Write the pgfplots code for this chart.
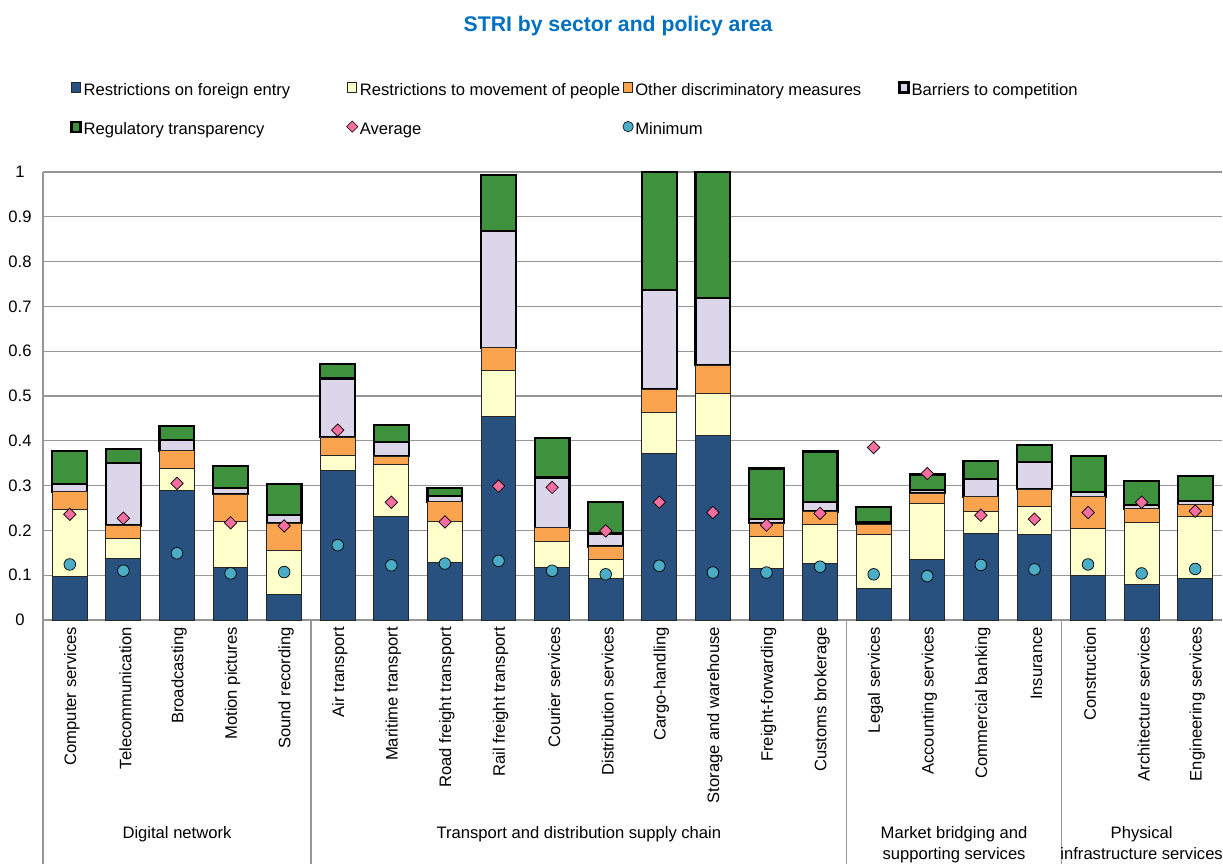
\documentclass[border=0pt]{standalone}
\usepackage{fontspec}
\setmainfont{Liberation Sans}
\usepackage{pgfplots}
\pgfplotsset{compat=1.18}
\usepackage{pgfplotstable}
\usetikzlibrary{calc}

\definecolor{cblue}{RGB}{41,81,128}
\definecolor{cyellow}{RGB}{255,255,204}
\definecolor{corange}{RGB}{251,164,80}
\definecolor{clav}{RGB}{220,214,234}
\definecolor{cgreen}{RGB}{62,146,62}
\definecolor{cpink}{RGB}{244,110,160}
\definecolor{cteal}{RGB}{75,172,198}
\definecolor{ctitle}{RGB}{0,112,192}
\definecolor{gridgray}{RGB}{150,150,150}

\pgfplotsset{
  mybarleg/.style={legend image code/.code={\draw[##1] (0pt,-0.5pt) rectangle (4.5pt,4.5pt);}},
  mymarkleg/.style={legend image code/.code={\draw[##1] plot coordinates {(2.25pt,2pt)};}},
}

\pgfplotstableread{
x a b c d e avg min
0 0.098 0.148 0.040 0.017 0.074 0.236 0.124
1 0.138 0.044 0.029 0.140 0.031 0.227 0.110
2 0.290 0.049 0.039 0.024 0.031 0.305 0.149
3 0.117 0.104 0.060 0.013 0.050 0.217 0.104
4 0.056 0.100 0.060 0.018 0.070 0.210 0.107
5 0.333 0.035 0.040 0.131 0.032 0.424 0.167
6 0.231 0.117 0.018 0.032 0.037 0.263 0.122
7 0.128 0.091 0.045 0.013 0.017 0.219 0.126
8 0.455 0.102 0.051 0.261 0.124 0.299 0.132
9 0.118 0.058 0.030 0.112 0.088 0.296 0.110
10 0.093 0.041 0.030 0.029 0.071 0.199 0.102
11 0.372 0.092 0.051 0.222 0.263 0.263 0.121
12 0.411 0.095 0.063 0.150 0.281 0.240 0.106
13 0.114 0.072 0.030 0.009 0.113 0.212 0.106
14 0.126 0.088 0.028 0.022 0.112 0.238 0.119
15 0.071 0.120 0.023 0.005 0.034 0.385 0.102
16 0.134 0.126 0.023 0.007 0.035 0.327 0.098
17 0.192 0.051 0.032 0.039 0.041 0.234 0.123
18 0.190 0.063 0.039 0.061 0.038 0.225 0.113
19 0.099 0.106 0.070 0.011 0.080 0.240 0.124
20 0.080 0.137 0.031 0.009 0.054 0.263 0.104
21 0.092 0.140 0.025 0.009 0.055 0.243 0.114
}\data

\newcommand{\lbl}{\fontsize{8.3}{10}\selectfont}

\begin{document}
\begin{tikzpicture}[font=\lbl]
\begin{axis}[name=ax, at={(0,0)}, anchor=south west,
  scale only axis, width=589.5pt, height=224pt,
  xmin=-0.5, xmax=21.5, ymin=0, ymax=1,
  ybar stacked, bar width=0.65,
  ytick={0,0.1,0.2,0.3,0.4,0.5,0.6,0.7,0.8,0.9,1},
  ymajorgrids, grid style={draw=gridgray, line width=0.6pt},
  axis x line*=bottom, axis y line*=left,
  axis line style={draw=gridgray, line width=0.6pt, -},
  major tick length=0pt,
  xtick={0,...,21},
  xticklabels={Computer services, Telecommunication, Broadcasting, Motion pictures, Sound recording, Air transport, Maritime transport, Road freight transport, Rail freight transport, Courier services, Distribution services, Cargo-handling, Storage and warehouse, Freight-forwarding, Customs brokerage, Legal services, Accounting services, Commercial banking, Insurance, Construction, Architecture services, Engineering services},
  xticklabel style={rotate=90, anchor=east, font=\lbl, yshift=-1pt},
  yticklabel style={anchor=center, xshift=-11.5pt, font=\lbl, /pgf/number format/fixed, /pgf/number format/assume math mode=true},
  clip=false,
  legend columns=4,
  legend style={draw=none, fill=none, at={(0,1)}, anchor=north west, xshift=13.5pt, yshift=45.5pt, inner sep=0pt,
    nodes={inner sep=1pt, text height=6pt, text depth=2pt}, /tikz/row sep=9.5pt, /tikz/column sep=0pt, font=\lbl},
]
\addplot[fill=cblue, draw=black!85, line width=0.5pt, mybarleg] table[x=x,y=a]{\data};
\addlegendentry{\makebox[130.5pt][l]{Restrictions on foreign entry}}
\addplot[fill=cyellow, draw=black!85, line width=0.5pt, mybarleg] table[x=x,y=b]{\data};
\addlegendentry{\makebox[130.5pt][l]{Restrictions to movement of people}}
\addplot[fill=corange, draw=black!85, line width=0.5pt, mybarleg] table[x=x,y=c]{\data};
\addlegendentry{\makebox[130.5pt][l]{Other discriminatory measures}}
\addplot[fill=clav, draw=black, line width=1.1pt, mybarleg] table[x=x,y=d]{\data};
\addlegendentry{\makebox[130.5pt][l]{Barriers to competition}}
\addplot[fill=cgreen, draw=black, line width=1.1pt, mybarleg] table[x=x,y=e]{\data};
\addlegendentry{\makebox[130.5pt][l]{Regulatory transparency}}
\addlegendimage{only marks, mark=square*, mark size=2pt, mark options={rotate=45, fill=cpink, draw=black, line width=0.3pt}, mymarkleg}
\addlegendentry{\makebox[130.5pt][l]{Average}}
\addlegendimage{only marks, mark=*, mark size=2.6pt, mark options={fill=cteal, draw=black, line width=0.3pt}, mymarkleg}
\addlegendentry{\makebox[130.5pt][l]{Minimum}}
\end{axis}

\begin{axis}[at={(ax.south west)}, anchor=south west,
  scale only axis, width=589.5pt, height=224pt,
  xmin=-0.5, xmax=21.5, ymin=0, ymax=1, hide axis, clip=false]
\addplot[only marks, mark=square*, mark size=2.2pt, mark options={rotate=45, fill=cpink, draw=black, line width=0.35pt}] table[x=x,y=avg]{\data};
\addplot[only marks, mark=*, mark size=2.9pt, mark options={fill=cteal, draw=black, line width=0.35pt}] table[x=x,y=min]{\data};
\draw[gridgray, line width=0.6pt] (axis cs:-0.5,0) -- (axis cs:-0.5,-0.7);
\draw[gridgray, line width=0.6pt] (axis cs:4.5,0) -- (axis cs:4.5,-0.7);
\draw[gridgray, line width=0.6pt] (axis cs:14.5,0) -- (axis cs:14.5,-0.7);
\draw[gridgray, line width=0.6pt] (axis cs:18.5,0) -- (axis cs:18.5,-0.7);
\node[anchor=base] at (axis cs:2,-0.4866) {Digital network};
\node[anchor=base] at (axis cs:9.5,-0.4866) {Transport and distribution supply chain};
\node[anchor=base] at (axis cs:16.5,-0.4866) {Market bridging and};
\node[anchor=base] at (axis cs:16.5,-0.5335) {supporting services};
\node[anchor=base] at (axis cs:20,-0.4866) {Physical};
\node[anchor=base] at (axis cs:20,-0.5335) {infrastructure services};
\node[font=\bfseries\fontsize{10.6}{12}\selectfont, text=ctitle] at (axis description cs:0.4877,1) [yshift=73pt] {STRI by sector and policy area};
\end{axis}
\pgfresetboundingbox
\path[use as bounding box] ($(ax.south west)+(-21.5pt,-121.5pt)$) rectangle ($(ax.north east)+(0.5pt,86pt)$);
\end{tikzpicture}
\end{document}
